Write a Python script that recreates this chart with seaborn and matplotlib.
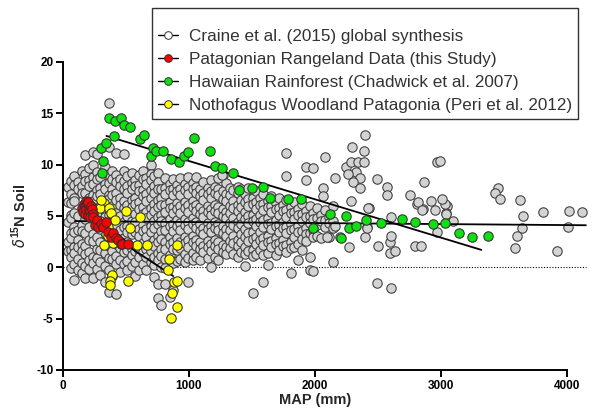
import numpy as np
import pandas as pd
import matplotlib
matplotlib.use("Agg")
import matplotlib.pyplot as plt
import seaborn as sns
from matplotlib.lines import Line2D

# ---------------- data ----------------
# Craine et al. (2015) global synthesis: dense part as columns (MAP, list of d15N)
craine_cols = [
    (42, [7.8, 6.4, 4.4, 2.5, 1.6]),
    (63, [8.4, 7.1, 6.3, 5.1, 4.8, 3.3, 2.9, 1.7, 1.0, -0.1]),
    (88, [8.9, 8.0, 6.8, 6.5, 5.3, 3.9, 3.4, 2.0, 1.4, 0.3, -1.2]),
    (118, [8.3, 7.6, 5.0, 3.6, 2.7, 2.0, 0.8, -0.3]),
    (150, [9.4, 7.9, 7.2, 4.1, 3.5, 2.3, 1.6, 0.4, -0.6]),
    (178, [10.9, 9.1, 8.4, 7.2, 4.7, 3.3, 2.1, 1.3, 0.1, -1.0]),
    (209, [9.7, 8.5, 7.9, 6.8, 3.9, 2.7, 1.5, 0.7, -0.2]),
    (238, [11.2, 10.0, 8.8, 8.1, 7.0, 6.5, 3.2, 2.6, 1.0, 0.4, -1.0]),
    (270, [11.0, 9.3, 8.6, 7.5, 6.9, 5.2, 3.0, 1.8, 0.9, -0.2]),
    (297, [8.8, 7.7, 7.1, 6.0, 3.7, 2.5, 1.7, 0.5, -0.7]),
    (331, [9.8, 8.1, 7.6, 5.5, 4.9, 2.2, 1.4, 0.1, -1.4]),
    (362, [16.0, 11.7, 9.1, 8.2, 7.0, 6.7, 5.1, 2.1, 0.9, -0.3, -2.4]),
    (389, [9.4, 8.6, 7.6, 7.0, 6.0, 4.4, 3.5, 1.6, 0.8, -0.8]),
    (421, [11.1, 9.0, 8.3, 7.2, 6.6, 5.3, 4.1, 3.0, 2.3, 1.1, 0.3, -2.6]),
    (452, [8.6, 7.9, 6.8, 6.1, 5.0, 3.6, 2.6, 1.9, 0.7, -0.5]),
    (483, [11.0, 9.4, 8.4, 7.6, 6.5, 5.8, 4.4, 3.9, 2.9, 1.5, 0.3]),
    (511, [8.9, 7.9, 7.2, 6.1, 5.0, 4.0, 3.4, 2.5, 1.7, 0.6, -0.3]),
    (547, [9.2, 8.2, 7.6, 6.6, 5.9, 4.5, 3.2, 1.8, 1.2, 0.1]),
    (571, [8.5, 7.9, 6.8, 6.2, 5.2, 4.4, 3.4, 1.6, 0.5, -0.8]),
    (603, [9.0, 8.0, 7.4, 6.4, 5.7, 3.7, 3.1, 1.7, 1.0, -0.3]),
    (638, [9.4, 8.6, 7.5, 6.9, 5.9, 5.2, 4.1, 3.5, 2.4, 1.5, 0.3]),
    (662, [8.7, 8.1, 7.1, 6.5, 5.4, 4.8, 3.7, 3.0, 1.8, 1.0, -0.3]),
    (697, [10.0, 9.1, 8.5, 7.5, 6.8, 5.8, 5.1, 4.0, 3.4, 2.4, 1.6, 0.5]),
    (722, [8.9, 7.9, 7.2, 6.2, 5.5, 4.5, 3.8, 2.7, 2.1, 1.0, 0.2, -0.9]),
    (756, [9.2, 8.3, 7.6, 6.6, 5.9, 4.9, 4.2, 3.1, 2.5, 1.4, 0.7, -1.6, -3.0]),
    (781, [7.6, 6.8, 6.1, 5.1, 4.5, 3.5, 2.8, 1.8, 1.1, 0.0, -3.7]),
    (813, [8.7, 7.7, 7.1, 6.1, 5.4, 4.3, 3.6, 2.5, 1.8, 0.8, -0.1, -1.6]),
    (847, [8.1, 7.5, 6.4, 5.8, 4.7, 4.0, 3.0, 2.3, 1.2, -2.9]),
    (872, [8.6, 7.6, 7.0, 5.9, 5.3, 4.2, 3.5, 2.5, 1.8, 0.4, -2.2]),
    (906, [8.0, 7.4, 6.3, 5.7, 4.6, 4.0, 2.9, 1.7, 0.6]),
    (931, [8.7, 7.6, 7.0, 6.0, 5.3, 4.3, 3.6, 2.5, 1.9, 0.8]),
    (967, [8.1, 7.5, 6.4, 5.8, 4.7, 4.1, 3.0, 2.4, 1.3, 0.5]),
    (994, [8.8, 7.8, 7.1, 6.1, 5.4, 4.4, 3.7, 2.7, 2.0, 0.9, -1.4]),
    (1028, [8.2, 7.6, 6.5, 5.9, 4.8, 4.2, 3.1, 2.5, 1.4, 0.7]),
    (1052, [8.8, 7.8, 7.2, 6.1, 5.5, 4.4, 3.8, 2.7, 2.1, 1.0]),
    (1088, [7.6, 6.9, 5.9, 5.2, 4.2, 3.5, 2.5, 1.8, 0.7]),
    (1113, [8.3, 7.2, 6.6, 5.5, 4.9, 3.8, 3.2, 2.1, 1.5]),
    (1148, [7.7, 7.1, 6.0, 5.4, 4.3, 3.7, 2.6, 2.0, 0.9]),
    (1172, [8.5, 7.4, 6.8, 5.7, 5.1, 4.0, 3.4, 2.3, 1.6, 0.0]),
    (1207, [7.8, 7.2, 6.1, 5.5, 4.4, 3.8, 2.7, 2.1, 1.0]),
    (1233, [8.7, 7.6, 7.0, 5.9, 5.3, 4.2, 3.6, 2.5, 1.8, 0.7]),
    (1268, [9.0, 7.4, 6.7, 5.7, 5.0, 4.0, 3.3, 2.2, 1.5]),
    (1292, [8.2, 7.1, 6.5, 5.4, 4.8, 3.7, 3.1, 2.0, 1.3]),
    (1327, [7.7, 7.0, 6.0, 5.3, 4.3, 3.6, 2.6, 1.9]),
    (1351, [7.5, 6.5, 5.8, 4.8, 4.1, 3.1, 2.4, 1.3]),
    (1387, [7.8, 7.2, 6.1, 5.5, 4.4, 3.8, 2.7, 2.1, 1.0]),
    (1412, [7.6, 6.6, 5.9, 4.9, 4.2, 3.2, 2.5, 1.5]),
    (1447, [7.1, 6.4, 5.4, 4.7, 3.7, 3.0, 2.0, 1.3, 0.1]),
    (1472, [7.7, 6.7, 6.0, 5.0, 4.3, 3.3, 2.6, 1.6]),
    (1507, [6.8, 6.2, 5.1, 4.5, 3.4, 2.8, 1.7, 1.1, -2.5]),
    (1531, [7.4, 6.4, 5.7, 4.7, 4.0, 3.0, 2.3, 1.3]),
    (1567, [6.8, 6.1, 5.1, 4.4, 3.4, 2.7, 1.7]),
    (1591, [7.1, 6.2, 5.6, 4.6, 3.9, 2.9, 2.2, 1.2, -1.4]),
    (1627, [6.5, 5.9, 4.8, 4.2, 3.1, 2.5, 1.4, 0.2]),
    (1651, [6.9, 6.0, 5.4, 4.3, 3.7, 2.6, 2.0]),
    (1687, [6.3, 5.7, 4.6, 4.0, 2.9, 2.3, 1.2]),
    (1712, [6.8, 5.8, 5.1, 4.1, 3.4, 2.4, 1.7]),
    (1747, [6.1, 5.5, 4.4, 3.8, 2.7, 2.1]),
    (1770, [11.1, 8.9]),
    (1773, [6.6, 5.6, 4.9, 3.9, 3.3, 2.2, 1.5]),
    (1808, [5.9, 5.3, 4.2, 3.6, 2.5, 1.9, -0.6]),
    (1832, [6.4, 5.4, 4.7, 3.7, 3.0, 2.0]),
    (1868, [5.7, 5.1, 4.0, 3.4, 2.3, 0.7]),
    (1893, [6.2, 5.2, 4.5, 3.5, 2.8, 1.7]),
    (1925, [9.8, 8.5, 5.5, 4.9, 3.8, 3.2, 2.6]),
    (1957, [6.0, 5.0, 4.3, 3.3, 1.0, -0.3]),
    (1985, [9.7, 5.3, 4.7, 3.6, 3.0, -0.4]),
    (2013, [5.8, 4.8, 4.1, 3.1]),
    (2047, [5.1, 4.5, 2.9]),
    (2065, [7.7, 6.9]),
    (2080, [10.7, 5.6, 4.6, 3.9]),
    (2112, [4.9, 4.3, 3.0]),
    (2140, [6.0, 4.5, 3.8, 0.5]),
    (2160, [8.7, 4.0]),
]
# Craine sparse points (MAP, d15N)
craine_sparse_x = [2397, 2291, 2391, 2246, 2286, 2344, 2391, 2325, 2264, 2357, 2300, 2357,
                   2490, 2569, 2569, 2966, 2865, 2754, 2283, 2431, 2807, 2921, 2952, 2860,
                   3045, 3037, 2200, 2397, 2270, 2497, 2595, 2595, 2635, 2794, 2841, 2966,
                   3098, 2494, 2601, 2603, 2415, 2601, 2093, 2410, 2423, 2815, 2846,
                   3455, 3429, 3468, 3627, 3812, 4018, 4117, 3648, 3640, 3601, 3587, 3923,
                   4010, 3032, 3040, 3011, 2992, 1259]
craine_sparse_y = [12.9, 11.7, 11.3, 9.8, 10.3, 10.3, 10.3, 9.3, 9.1, 8.7, 8.3, 7.7,
                   8.6, 7.8, 7.0, 10.3, 8.3, 7.0, 6.5, 5.8, 6.2, 6.5, 5.6, 5.7,
                   6.0, 5.3, 3.0, 3.0, 2.0, 2.1, 2.5, 1.4, 1.6, 2.1, 2.1, 3.4,
                   4.5, -1.5, -2.0, 3.1, 3.9, 4.9, 3.0, 3.8, 5.8, 6.4, 5.6,
                   7.7, 7.2, 6.7, 6.6, 5.4, 5.5, 5.4, 5.0, 3.8, 3.1, 1.9, 1.6,
                   3.9, 6.2, 5.2, 6.7, 10.4, 9.0]

# Patagonian Rangeland Data (this Study)
pat_x = [150, 160, 165, 172, 175, 180, 185, 190, 195, 200, 205, 212, 214, 220, 228, 235,
         241, 254, 267, 275, 300, 320, 341, 360, 380, 399, 420, 439, 458, 466, 518]
pat_y = [5.8, 5.4, 6.2, 5.2, 6.0, 6.5, 5.7, 6.3, 5.0, 6.4, 5.6, 5.5, 4.9, 6.0, 5.7, 5.2,
         4.9, 4.1, 4.6, 3.9, 4.2, 3.9, 4.4, 3.4, 3.0, 3.3, 2.9, 2.7, 2.3, 2.3, 2.3]

# Hawaiian Rainforest (Chadwick et al. 2007)
haw_x = [305, 312, 318, 339, 365, 402, 416, 462, 485, 530, 612, 643, 700, 712, 738, 796,
         856, 924, 958, 995, 1038, 1164, 1210, 1262, 1347, 1398, 1502, 1588, 1643, 1783,
         1885, 1981, 2119, 2205, 2248, 2267, 2325, 2403, 2527, 2690, 2794, 2934, 3032,
         3143, 3249, 3371]
haw_y = [11.6, 9.2, 10.4, 12.1, 14.5, 12.8, 14.3, 14.5, 13.9, 13.7, 12.5, 12.9, 10.8,
         11.6, 11.3, 11.3, 10.6, 10.3, 10.8, 11.2, 12.6, 11.3, 9.9, 9.7, 9.2, 7.5, 7.7,
         7.8, 6.8, 6.7, 6.7, 3.8, 5.2, 2.9, 5.0, 3.8, 4.0, 4.6, 4.3, 4.7, 4.4, 4.2, 4.3,
         3.3, 3.0, 3.1]

# Nothofagus Woodland Patagonia (Peri et al. 2012)
noth_x = [328, 294, 368, 378, 500, 611, 294, 413, 532, 360, 339, 386, 328, 399, 585, 669,
          907, 841, 835, 386, 373, 373, 518, 884, 907, 862, 902, 857, 357, 300]
noth_y = [6.3, 5.8, 5.8, 5.3, 5.5, 4.9, 4.5, 4.6, 3.8, 3.9, 3.2, 3.0, 2.2, 2.4, 2.2, 2.2,
          2.2, 0.8, -0.3, -0.7, -1.3, -1.7, -1.3, -1.4, -1.3, -2.5, -3.9, -4.9, 3.1, 6.6]

# fitted lines (end points)
fit_craine_x, fit_craine_y = [95, 4150], [4.5, 4.1]
fit_haw_x, fit_haw_y = [345, 3320], [12.8, 1.7]
fit_pat_x, fit_pat_y = [150, 540], [6.3, 2.1]
fit_noth_x, fit_noth_y = [400, 875], [3.0, -0.85]

labels = ["Craine et al. (2015) global synthesis",
          "Patagonian Rangeland Data (this Study)",
          "Hawaiian Rainforest (Chadwick et al. 2007)",
          "Nothofagus Woodland Patagonia (Peri et al. 2012)"]
xticks = [0, 1000, 2000, 3000, 4000]
yticks = [-10, -5, 0, 5, 10, 15, 20]

# ---------------- build frames ----------------
cx, cy = [], []
for x, ys in craine_cols:
    cx += [x] * len(ys)
    cy += ys
cx += craine_sparse_x
cy += craine_sparse_y
craine = pd.DataFrame({"MAP": cx, "d15N": cy})
pat = pd.DataFrame({"MAP": pat_x, "d15N": pat_y})
haw = pd.DataFrame({"MAP": haw_x, "d15N": haw_y})
noth = pd.DataFrame({"MAP": noth_x, "d15N": noth_y})

# ---------------- plot ----------------
sns.set_theme(style="ticks")
plt.rcParams["font.family"] = ["Liberation Sans", "DejaVu Sans"]
plt.rcParams["mathtext.fontset"] = "custom"
plt.rcParams["mathtext.rm"] = "Liberation Sans"
plt.rcParams["mathtext.bf"] = "Liberation Sans:bold"

fig = plt.figure(figsize=(6.03, 4.18), dpi=100)
ax = fig.add_axes([63 / 603, 1 - 370 / 418, 504 / 603, 308 / 418])

ax.plot([0, 4150], [0, 0], ls=(0, (1, 1.5)), color="black", lw=0.8, clip_on=False, zorder=1)

MS = 46
sns.scatterplot(data=craine, x="MAP", y="d15N", ax=ax, s=MS, color="#d3d3d3",
                edgecolor="#3a3a3a", linewidth=0.75, legend=False, clip_on=False, zorder=2)

for fx, fy in [(fit_craine_x, fit_craine_y), (fit_haw_x, fit_haw_y),
               (fit_pat_x, fit_pat_y), (fit_noth_x, fit_noth_y)]:
    ax.plot(fx, fy, color="black", lw=1.3, clip_on=False, zorder=3)

for df, col in [(haw, "#10e010"), (noth, "#ffff00"), (pat, "#ff0000")]:
    sns.scatterplot(data=df, x="MAP", y="d15N", ax=ax, s=MS, color=col,
                    edgecolor="#303030", linewidth=0.75, legend=False, clip_on=False, zorder=4)

ax.set_xlim(0, 4000)
ax.set_ylim(-10, 20)
ax.set_xticks(xticks)
ax.set_yticks(yticks)
ax.set_xticklabels([str(t) for t in xticks], fontweight="bold", fontsize=8.5)
ax.set_yticklabels([str(t) for t in yticks], fontweight="bold", fontsize=8.5)
ax.tick_params(direction="out", length=5, width=1.4, pad=2, colors="black")
for sp in ["left", "bottom"]:
    ax.spines[sp].set_linewidth(1.4)
    ax.spines[sp].set_color("black")
sns.despine(ax=ax)
ax.set_xlabel("MAP (mm)", fontweight="bold", fontsize=10.5, labelpad=1)
ax.set_ylabel(r"$\delta^{\mathbf{15}}$N Soil", fontweight="bold", fontsize=10.5, labelpad=5)

handles = [Line2D([0], [0], color="black", lw=1, marker="o", markersize=5.5,
                  markerfacecolor=c, markeredgecolor="#303030", markeredgewidth=0.7)
           for c in ["white", "#ff0000", "#10e010", "#ffff00"]]
leg = fig.legend(handles, labels, loc="upper left", bbox_to_anchor=(152 / 603, 1 - 8 / 418),
                 borderaxespad=0, frameon=True, fancybox=False, fontsize=12.3, title=" ",
                 title_fontsize=6, handlelength=1.2, handletextpad=0.6, labelspacing=0.47,
                 borderpad=0.35)
leg.get_frame().set_edgecolor("black")
leg.get_frame().set_linewidth(1.0)
for t in leg.get_texts():
    t.set_color("#333333")

fig.savefig("out.png", dpi=100)
